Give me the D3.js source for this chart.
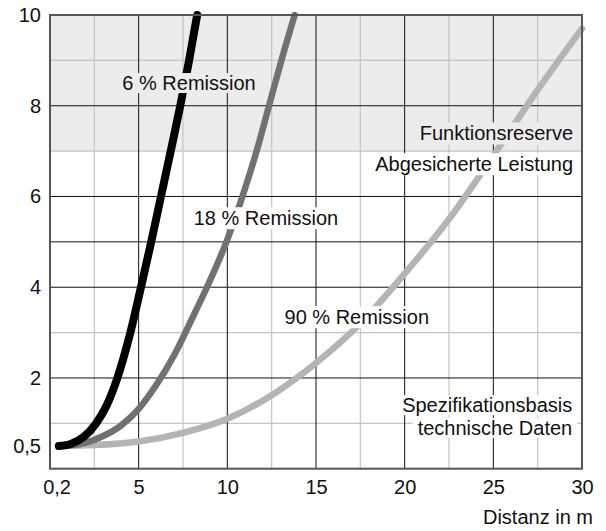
<!DOCTYPE html>
<html><head><meta charset="utf-8">
<script src="https://cdn.jsdelivr.net/npm/d3@7"></script>
<style>html,body{margin:0;padding:0;background:#fff;}svg{display:block;}</style>
</head><body>
<svg id="c" width="606" height="531"></svg>
<script>
// ---- data ----
const xTickValues = [0.2, 5, 10, 15, 20, 25, 30];
const xTickLabels = ["0,2", "5", "10", "15", "20", "25", "30"];
const yTickValues = [0.5, 2, 4, 6, 8, 10];
const yTickLabels = ["0,5", "2", "4", "6", "8", "10"];
const seriesNames = ["6 % Remission", "18 % Remission", "90 % Remission"];
const dist6 =  [0.5, 1.2, 1.9, 2.6, 3.2, 3.8, 4.5, 5.1, 5.68, 6.23, 6.78, 7.32, 7.82, 8.3];
const gain6 =  [0.5, 0.55, 0.7, 1, 1.4, 2, 2.95, 3.95, 4.95, 5.95, 6.95, 7.95, 8.95, 10];
const dist18 = [0.5, 1, 2, 3, 4, 5, 6, 7, 8, 8.85, 9.95, 10.85, 11.65, 12.35, 13.05, 13.8];
const gain18 = [0.5, 0.51, 0.57, 0.72, 0.95, 1.32, 1.85, 2.5, 3.3, 4, 5, 6, 7, 8, 9, 10];
const dist90 = [0.5, 2.5, 5, 7.5, 10, 12.5, 15, 17.5, 20, 22.5, 25, 27.5, 30];
const gain90 = [0.5, 0.52, 0.6, 0.79, 1.1, 1.62, 2.33, 3.2, 4.3, 5.5, 6.9, 8.35, 9.7];
const reserveFrom = 7, reserveTo = 10;
const thresholdLine = 5;
const zoneLabels = ["Funktionsreserve", "Abgesicherte Leistung", "Spezifikationsbasis", "technische Daten"];
const xTitle = "Distanz in m";

// ---- layout ----
const W = 606, H = 531;
const m = {l: 50, t: 15, r: 24, b: 62.3};
const iw = W - m.l - m.r, ih = H - m.t - m.b;
const FONT = "'Liberation Sans', Arial, sans-serif";
const FS = 20;

const svg = d3.select("#c");
const x = d3.scaleLinear().domain([0, 30]).range([m.l, m.l + iw]);
const y = d3.scaleLinear().domain([0, 10]).range([m.t + ih, m.t]);

// reserve shading
svg.append("rect").attr("x", x(0)).attr("y", y(reserveTo)).attr("width", x(30) - x(0))
  .attr("height", y(reserveFrom) - y(reserveTo)).attr("fill", "#ececec");

// grid
const g = svg.append("g");
const minorX = d3.range(2.5, 30, 5), majorX = d3.range(5, 30, 5);
const minorY = [1, 3, 7, 9], majorY = [2, 4, 6, 8, thresholdLine];
g.selectAll(".mx").data(minorX).join("line").attr("x1", d => x(d)).attr("x2", d => x(d))
  .attr("y1", y(0)).attr("y2", y(10)).attr("stroke", "#c4c4c4").attr("stroke-width", 1.2);
g.selectAll(".my").data(minorY).join("line").attr("y1", d => y(d)).attr("y2", d => y(d))
  .attr("x1", x(0)).attr("x2", x(30)).attr("stroke", "#c4c4c4").attr("stroke-width", 1.2);
g.selectAll(".Mx").data(majorX).join("line").attr("x1", d => x(d)).attr("x2", d => x(d))
  .attr("y1", y(0)).attr("y2", y(10)).attr("stroke", "#111").attr("stroke-width", 1);
g.selectAll(".My").data(majorY).join("line").attr("y1", d => y(d)).attr("y2", d => y(d))
  .attr("x1", x(0)).attr("x2", x(30)).attr("stroke", "#111").attr("stroke-width", 1);

// curves
const series = [
  {name: seriesNames[0], xs: dist6, ys: gain6, color: "#000000", w: 8},
  {name: seriesNames[1], xs: dist18, ys: gain18, color: "#717171", w: 6.5},
  {name: seriesNames[2], xs: dist90, ys: gain90, color: "#b4b4b4", w: 6.5}
];
const line = d3.line().x(d => x(d[0])).y(d => y(d[1])).curve(d3.curveMonotoneX);
[series[2], series[1], series[0]].forEach(s => {
  svg.append("path").attr("d", line(s.xs.map((v, i) => [v, s.ys[i]])))
    .attr("fill", "none").attr("stroke", s.color).attr("stroke-width", s.w)
    .attr("stroke-linecap", "round").attr("stroke-linejoin", "round");
});

// labels with background boxes
function label(txt, dx, dy, anchor, bg, padX, padY) {
  const grp = svg.append("g");
  const r = grp.append("rect").attr("fill", bg);
  const t = grp.append("text").attr("x", x(dx)).attr("y", y(dy)).attr("text-anchor", anchor)
    .attr("dominant-baseline", "central").attr("font-family", FONT).attr("font-size", FS)
    .attr("fill", "#111").text(txt);
  const b = t.node().getBBox();
  r.attr("x", b.x - padX).attr("y", b.y - padY).attr("width", b.width + 2 * padX).attr("height", b.height + 2 * padY);
  return grp;
}
label(seriesNames[0], 7.84, 8.5, "middle", "#ececec", 4, -1);
label(seriesNames[1], 12.18, 5.52, "middle", "#ffffff", 5, 0);
label(seriesNames[2], 17.3, 3.34, "middle", "#ffffff", 5, 0);
label(zoneLabels[0], 29.5, 7.39, "end", "#ececec", 6, 0);
label(zoneLabels[1], 29.5, 6.71, "end", "#ffffff", 6, 0);
label(zoneLabels[2], 29.45, 1.40, "end", "#ffffff", 5, -1);
label(zoneLabels[3], 29.45, 0.90, "end", "#ffffff", 5, -1);

// frame
svg.append("rect").attr("x", x(0)).attr("y", y(10)).attr("width", x(30) - x(0)).attr("height", y(0) - y(10))
  .attr("fill", "none").attr("stroke", "#555").attr("stroke-width", 2);

// axes (labels only)
const xa = svg.append("g").attr("transform", `translate(0,${y(0)})`)
  .call(d3.axisBottom(x).tickValues(xTickValues).tickSize(0).tickPadding(11)
    .tickFormat((d, i) => xTickLabels[i]));
xa.select(".domain").remove();
xa.selectAll("text").attr("font-family", FONT).attr("font-size", FS).attr("fill", "#111")
  .attr("dx", (d, i) => i === 0 ? 3 : 0);
const ya = svg.append("g").attr("transform", `translate(${x(0)},0)`)
  .call(d3.axisLeft(y).tickValues(yTickValues).tickSize(0).tickPadding(9)
    .tickFormat((d, i) => yTickLabels[i]));
ya.select(".domain").remove();
ya.selectAll("text").attr("font-family", FONT).attr("font-size", FS).attr("fill", "#111");

svg.append("text").attr("x", x(30) + 11).attr("y", 517).attr("text-anchor", "end")
  .attr("dominant-baseline", "central").attr("font-family", FONT).attr("font-size", FS)
  .attr("fill", "#111").text(xTitle);
</script>
</body></html>
